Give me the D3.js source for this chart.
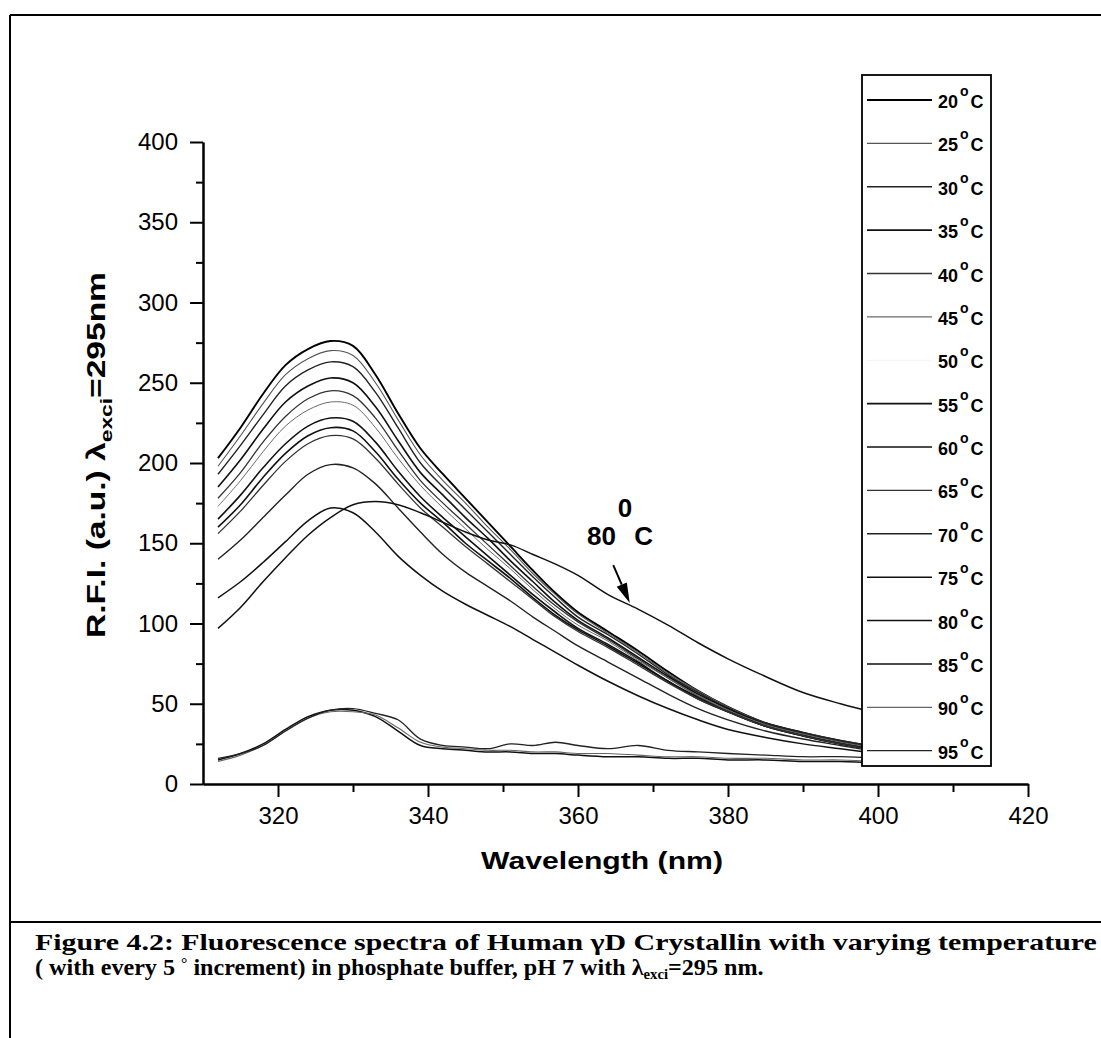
<!DOCTYPE html>
<html><head><meta charset="utf-8">
<script src="https://cdn.jsdelivr.net/npm/d3@7/dist/d3.min.js"></script>
<style>body{margin:0;background:#fff}svg{display:block}</style>
</head><body>
<script>
// ---------- DATA ----------
const wavelengths = [312,315,318,321,324,327,330,333,336,339,342,345,348,351,354,357,360,364,368,372,376,380,385,390,395,400];
const temperatures = [20,25,30,35,40,45,50,55,60,65,70,75,80,85,90,95];
const s20 = [203,222,243,261,271,276,273,255,231,209,193,178,163,148,133,119,107,95,83,70,58,48,38,32,27,23];
const s25 = [198,217,237,255,265,270,267,250,227,205,189,175,160,146,131,118,106,94,82,69,58,48,38,32,27,23];
const s30 = [193,211,230,248,258,263,260,244,222,200,185,171,157,143,129,116,104,93,81,68,57,47,38,32,27,23];
const s35 = [185,202,221,238,248,253,250,235,214,194,180,166,153,139,126,113,102,91,79,67,56,47,37,31,26,22];
const s40 = [178,194,213,229,240,245,242,228,208,189,175,162,149,136,123,111,101,90,78,66,55,46,37,31,26,22];
const s45 = [173,189,207,223,233,238,236,222,203,186,172,159,146,134,121,109,99,89,77,66,55,46,37,31,26,22];
const s50 = [169,184,201,217,228,233,231,217,198,181,169,156,144,132,120,108,98,88,76,65,54,45,36,31,26,22];
const s55 = [165,180,197,212,223,228,226,213,195,179,166,154,142,130,118,107,97,87,76,64,54,45,36,30,25,21];
const s60 = [160,174,191,206,217,222,220,207,190,175,163,150,139,128,116,105,96,86,75,64,53,45,36,30,25,21];
const s65 = [156,170,186,201,212,217,215,203,187,172,160,148,137,126,115,104,95,85,74,63,53,45,36,30,25,21];
const s70 = [140,152,166,180,193,199,197,187,172,157,143,132,123,114,104,95,86,76,66,56,47,40,33,28,24,20];
const s75 = [116,126,138,151,164,172,169,157,142,130,120,112,105,98,90,82,74,64,55,47,40,34,29,25,22,19];
const s80 = [97,110,126,141,155,166,174,176,174,169,163,157,152,149,143,137,130,118,109,99,88,78,67,57,50,44];
const s85 = [15,19,25,34,42,46,46,42,33,24,22,21,20,20,19,19,18,17,17,16,16,15,15,14,14,13];
const s90 = [14,18,24,33,41,45,45,43,35,26,23,22,21,21,20,20,19,19,18,17,17,16,16,15,15,14];
const s95 = [16,19,24,33,41,46,47,44,40,28,24,23,22,25,24,26,24,22,24,21,20,19,18,17,17,16];
const seriesValues = [s20,s25,s30,s35,s40,s45,s50,s55,s60,s65,s70,s75,s80,s85,s90,s95];
const yTicks = [0,50,100,150,200,250,300,350,400];
const yMinor = [25,75,125,175,225,275,325,375];
const xTicks = [320,340,360,380,400,420];
const xMinor = [330,350,370,390,410];
const annotation = {label:"80", unit:"C", sup:"0", textAt:[361.2,148.9], supAt:[365.3,166.4], unitAt:[367.5,149], arrowFrom:[364.7,136.4], arrowTo:[366.9,112.8]};

// ---------- STYLE ----------
const lineColors = ["#000","#555","#222","#111","#333","#6a6a6a","#f6f6f6","#111","#111","#333","#222","#111","#111","#111","#666","#222"];
const lineWidths = [1.9,1.1,1.4,1.6,1.3,1.0,1.0,1.6,1.6,1.3,1.4,1.5,1.5,1.5,1.1,1.3];
const SANS = "'Liberation Sans', Arial, Helvetica, sans-serif";
const SERIF = "'Liberation Serif', 'Times New Roman', serif";

const W = 1101, H = 1038;
const svg = d3.select("body").append("svg").attr("width", W).attr("height", H);

// frame
const frame = svg.append("g").attr("stroke","#000").attr("stroke-width",2).attr("fill","none");
frame.append("line").attr("x1",10).attr("y1",15).attr("x2",W).attr("y2",15);
frame.append("line").attr("x1",10).attr("y1",15).attr("x2",10).attr("y2",H);
frame.append("line").attr("x1",10).attr("y1",922).attr("x2",W).attr("y2",922);

const x = d3.scaleLinear().domain([310,420]).range([203,1028]);
const y = d3.scaleLinear().domain([0,400]).range([784,142]);

// curves
const line = d3.line().x((d,i)=>x(wavelengths[i])).y(d=>y(d)).curve(d3.curveCatmullRom.alpha(0.5));
const order = [6,0,1,2,3,4,5,7,8,9,10,11,12,13,14,15];
svg.append("g").selectAll("path").data(order).join("path")
  .attr("d", i=>line(seriesValues[i]))
  .attr("fill","none")
  .attr("stroke", i=>lineColors[i])
  .attr("stroke-width", i=>lineWidths[i])
  .attr("stroke-linejoin","round");

// axes
function styleAxis(g){
  g.select(".domain").attr("stroke","#000").attr("stroke-width",2);
  g.selectAll(".tick line").attr("stroke","#000").attr("stroke-width",2);
  g.selectAll("text").attr("fill","#000").attr("font-family",SANS).attr("font-size",24);
}
const yAx = svg.append("g").attr("transform","translate(203,0)")
  .call(d3.axisLeft(y).tickValues(yTicks).tickSize(13).tickSizeOuter(0).tickPadding(12).tickFormat(d3.format("d")));
styleAxis(yAx);
const yAxm = svg.append("g").attr("transform","translate(203,0)")
  .call(d3.axisLeft(y).tickValues(yMinor).tickSize(7).tickSizeOuter(0).tickFormat(""));
styleAxis(yAxm);
const xAx = svg.append("g").attr("transform","translate(0,784)")
  .call(d3.axisBottom(x).tickValues(xTicks).tickSize(13).tickSizeOuter(0).tickPadding(10).tickFormat(d3.format("d")));
styleAxis(xAx);
const xAxm = svg.append("g").attr("transform","translate(0,784)")
  .call(d3.axisBottom(x).tickValues(xMinor).tickSize(8).tickSizeOuter(0).tickFormat(""));
styleAxis(xAxm);

// axis titles
function fitX(sel, target){
  const len = sel.node().getComputedTextLength();
  return target/len;
}
const xt = svg.append("text").attr("font-family",SANS).attr("font-weight","bold").attr("font-size",24)
  .attr("text-anchor","middle").attr("x",0).attr("y",0).text("Wavelength (nm)");
xt.attr("transform",`translate(602,869) scale(${fitX(xt,242)},1)`);

const yt = svg.append("text").attr("font-family",SANS).attr("font-weight","bold").attr("font-size",25)
  .attr("text-anchor","middle").attr("x",0).attr("y",0);
yt.append("tspan").text("R.F.I. (a.u.) λ");
yt.append("tspan").attr("font-size",17).attr("dy",7).text("exci");
yt.append("tspan").attr("dy",-7).text("=295nm");
yt.attr("transform",`translate(105,455) rotate(-90) scale(${fitX(yt,366)},1)`);

// annotation
const ann = svg.append("g").attr("font-family",SANS).attr("font-weight","bold").attr("font-size",26).attr("fill","#000");
ann.append("text").attr("x",x(annotation.textAt[0])).attr("y",y(annotation.textAt[1])).text(annotation.label);
ann.append("text").attr("x",x(annotation.supAt[0])).attr("y",y(annotation.supAt[1])).text(annotation.sup);
ann.append("text").attr("x",x(annotation.unitAt[0])).attr("y",y(annotation.unitAt[1])).text(annotation.unit);
const ax0 = x(annotation.arrowFrom[0]), ay0 = y(annotation.arrowFrom[1]);
const ax1 = x(annotation.arrowTo[0]), ay1 = y(annotation.arrowTo[1]);
const ang = Math.atan2(ay1-ay0, ax1-ax0);
const hl = 20, hw = 5.5;
const bx = ax1 - hl*Math.cos(ang), by = ay1 - hl*Math.sin(ang);
svg.append("line").attr("x1",ax0).attr("y1",ay0).attr("x2",bx).attr("y2",by).attr("stroke","#000").attr("stroke-width",2);
svg.append("polygon").attr("fill","#000")
  .attr("points",[[ax1,ay1],[bx - hw*Math.sin(ang), by + hw*Math.cos(ang)],[bx + hw*Math.sin(ang), by - hw*Math.cos(ang)]].map(p=>p.join(",")).join(" "));

// legend
const lg = svg.append("g");
lg.append("rect").attr("x",862).attr("y",75).attr("width",129).attr("height",691)
  .attr("fill","#fff").attr("stroke","#000").attr("stroke-width",1.8);
const rowY = d3.scaleLinear().domain([0,temperatures.length-1]).range([100,750.7]);
temperatures.forEach((t,i)=>{
  const yy = rowY(i);
  lg.append("line").attr("x1",867).attr("x2",932).attr("y1",yy).attr("y2",yy)
    .attr("stroke",lineColors[i]).attr("stroke-width",Math.max(1.2,lineWidths[i]));
  const tx = lg.append("text").attr("x",938).attr("y",yy+8).attr("font-family",SANS)
    .attr("font-weight","bold").attr("font-size",18).attr("fill","#000");
  tx.append("tspan").text(t);
  tx.append("tspan").attr("font-size",14).attr("dx",2).attr("dy",-12).text("o");
  tx.append("tspan").attr("dx",2).attr("dy",12).text("C");
});

// caption
const capSize = 23;
const c1 = svg.append("text").attr("font-family",SERIF).attr("font-weight","bold").attr("font-size",capSize)
  .attr("x",0).attr("y",0).text("Figure 4.2: Fluorescence spectra of Human γD Crystallin with varying temperature");
c1.attr("transform",`translate(35,950) scale(${fitX(c1,1062)},1)`);
const c2 = svg.append("text").attr("font-family",SERIF).attr("font-weight","bold").attr("font-size",capSize).attr("x",0).attr("y",0);
c2.append("tspan").text("( with every 5 ");
c2.append("tspan").attr("font-size",15).attr("dy",-7).text("°");
c2.append("tspan").attr("dy",7).text(" increment) in phosphate buffer, pH 7 with λ");
c2.append("tspan").attr("font-size",14).attr("dy",4).text("exci");
c2.append("tspan").attr("dy",-4).text("=295 nm.");
c2.attr("transform",`translate(35,975) scale(${fitX(c2,729)},1)`);
</script>
</body></html>
